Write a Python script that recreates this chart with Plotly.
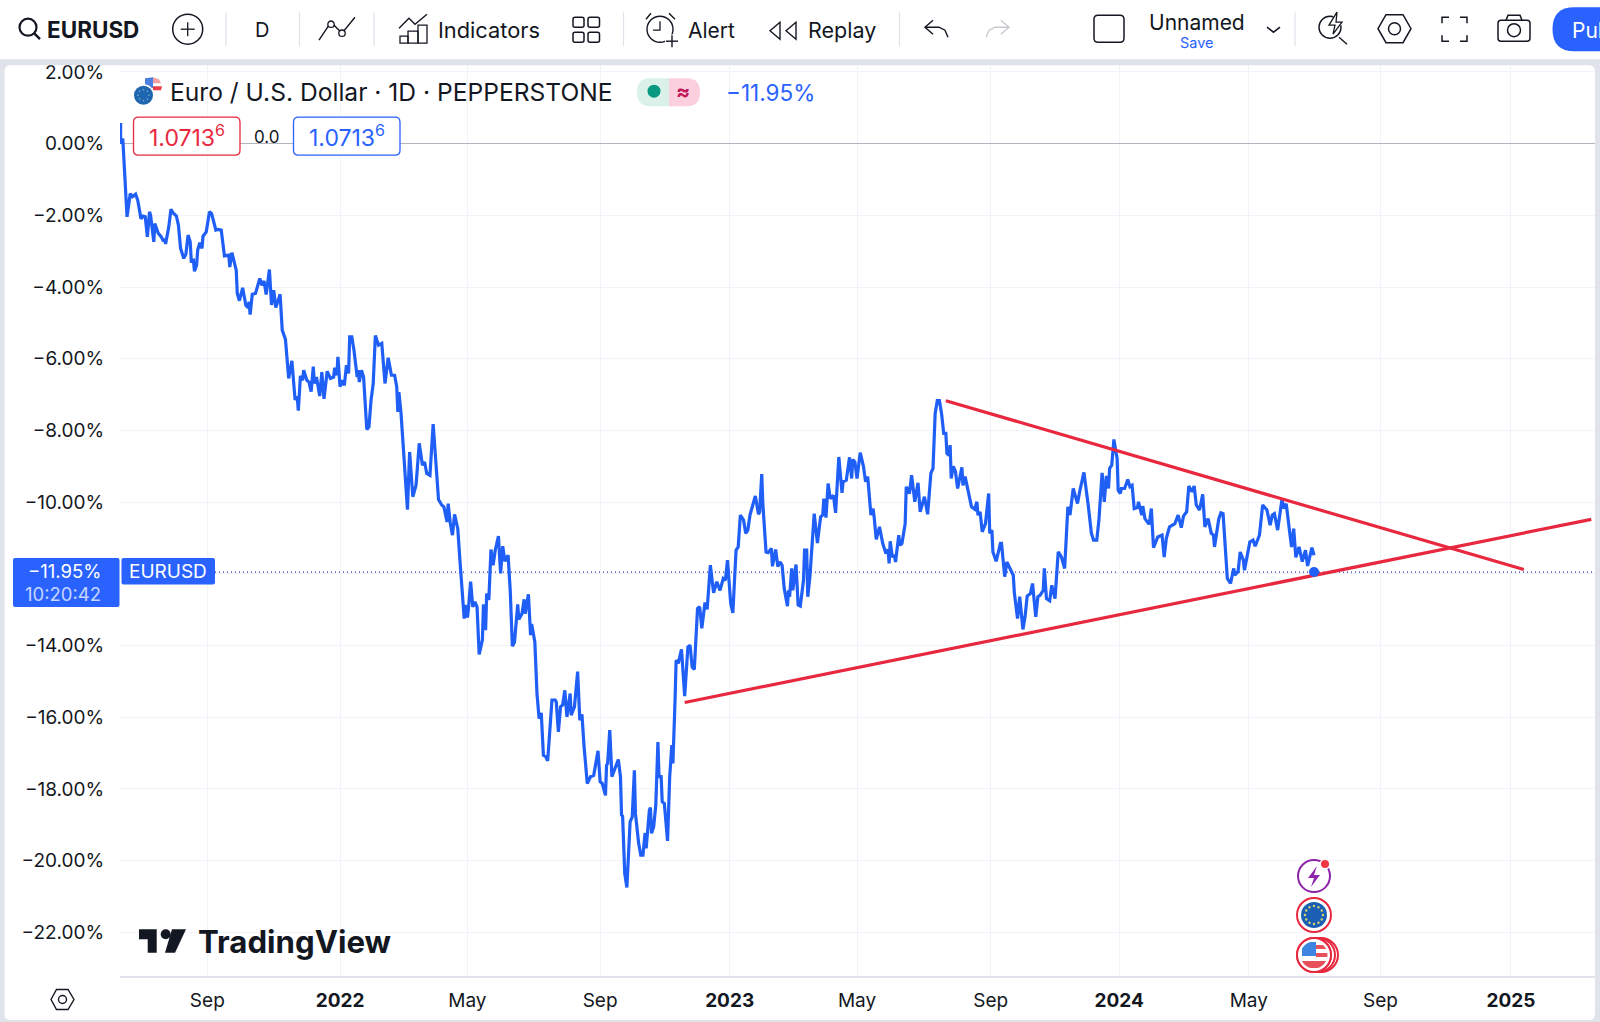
import numpy as np
import pandas as pd
import plotly.graph_objects as go

W, H = 1600, 1022
# the page came out about 5px low at the top, so paper y is stretched to suit
PAGE_TOP, PAGE_H = 4.8, 1017.2

# EURUSD percent change, bars counted in calendar days from the first date
start_date = "2021-06-11"
days = [
    1, 1, 3, 5, 7, 10, 12, 15, 17, 20,
    22, 24, 26, 28, 29, 32, 33, 36, 39, 41,
    42, 43, 46, 48, 50, 53, 55, 57, 60, 62,
    64, 66, 67, 69, 70, 72, 73, 75, 77, 78,
    81, 84, 86, 90, 92, 95, 98, 102, 103, 105,
    107, 109, 110, 112, 115, 118, 120, 121, 122, 124,
    127, 131, 133, 135, 137, 140, 142, 144, 146, 150,
    152, 155, 158, 161, 164, 166, 167, 169, 171, 172,
    175, 177, 179, 181, 182, 184, 187, 189, 191, 194,
    197, 200, 201, 203, 204, 206, 208, 210, 212, 214,
    215, 217, 219, 222, 223, 224, 226, 228, 231, 233,
    235, 237, 239, 242, 245, 248, 251, 254, 257, 259,
    260, 261, 263, 264, 265, 268, 269, 271, 274, 277,
    280, 283, 285, 287, 290, 293, 295, 298, 301, 303,
    306, 307, 309, 311, 313, 316, 318, 322, 323, 325,
    326, 328, 330, 332, 334, 336, 339, 340, 342, 343,
    345, 347, 349, 351, 354, 356, 358, 360, 363, 365,
    367, 369, 372, 373, 376, 378, 379, 382, 384, 385,
    388, 390, 392, 394, 396, 398, 400, 402, 404, 407,
    408, 410, 412, 414, 416, 418, 421, 422, 425, 428,
    430, 432, 434, 437, 440, 443, 447, 449, 451, 454,
    455, 456, 458, 460, 463, 466, 468, 469, 470, 472,
    474, 476, 477, 479, 481, 482, 485, 487, 489, 491,
    492, 495, 496, 497, 499, 501, 503, 504, 506, 507,
    509, 512, 514, 516, 517, 519, 520, 522, 525, 528,
    531, 533, 535, 537, 540, 542, 544, 547, 549, 552,
    555, 558, 561, 564, 566, 568, 571, 573, 576, 578,
    580, 583, 585, 587, 589, 594, 597, 598, 600, 601,
    604, 606, 609, 610, 613, 615, 617, 619, 621, 624,
    625, 626, 628, 629, 632, 634, 636, 639, 640, 642,
    643, 645, 649, 652, 655, 657, 658, 660, 662, 664,
    667, 669, 672, 675, 676, 679, 682, 684, 685, 687,
    689, 692, 695, 697, 699, 702, 704, 705, 707, 710,
    713, 716, 718, 719, 720, 722, 724, 725, 728, 729,
    731, 734, 735, 738, 740, 743, 746, 748, 752, 755,
    758, 760, 762, 764, 766, 768, 770, 772, 773, 775,
    776, 777, 779, 781, 783, 787, 788, 790, 793, 796,
    799, 801, 802, 804, 806, 809, 812, 813, 815, 816,
    819, 823, 824, 827, 829, 832, 835, 836, 839, 841,
    844, 846, 848, 851, 853, 856, 858, 860, 863, 864,
    866, 869, 871, 874, 877, 880, 883, 886, 888, 891,
    895, 897, 901, 905, 908, 910, 913, 915, 918, 920,
    922, 924, 925, 927, 929, 932, 933, 935, 936, 939,
    942, 944, 946, 948, 951, 952, 955, 956, 958, 962,
    964, 966, 970, 974, 976, 978, 981, 986, 989, 992,
    994, 997, 999, 1002, 1004, 1006, 1009, 1012, 1014, 1017,
    1020, 1022, 1023, 1027, 1029, 1031, 1033, 1034, 1035, 1038,
    1041, 1042, 1045, 1047, 1050, 1051, 1054, 1056, 1059, 1061,
    1065, 1068, 1072, 1075, 1077, 1079, 1082, 1086, 1088, 1090,
    1093, 1095, 1097, 1099, 1102, 1105, 1108, 1110, 1114, 1116,
]
pct_change = [
    0.58, 0.00, 0.14, -1.02, -2.04, -1.39, -1.48, -1.41, -1.58, -2.09,
    -2.02, -2.04, -2.60, -1.90, -2.00, -2.74, -2.23, -2.49, -2.60, -2.72,
    -2.65, -2.80, -2.32, -1.83, -1.93, -2.01, -2.27, -2.92, -3.20, -3.08,
    -2.55, -2.74, -3.27, -3.25, -3.56, -3.39, -2.97, -2.76, -2.92, -2.58,
    -2.46, -1.90, -1.95, -2.41, -2.39, -2.41, -3.13, -3.11, -3.44, -3.04,
    -3.34, -3.53, -4.18, -4.38, -4.02, -4.51, -4.57, -4.41, -4.77, -4.20,
    -4.18, -3.76, -3.95, -3.83, -4.21, -3.51, -4.50, -4.09, -4.57, -4.20,
    -5.20, -5.46, -6.55, -6.06, -7.15, -7.06, -7.45, -6.48, -6.60, -6.32,
    -6.60, -6.65, -6.92, -6.22, -6.69, -6.51, -7.04, -6.37, -7.12, -6.35,
    -6.55, -6.51, -6.25, -6.46, -5.95, -6.78, -6.60, -6.74, -6.18, -6.41,
    -5.39, -5.39, -5.76, -6.51, -6.32, -6.65, -6.32, -6.51, -7.97, -7.90,
    -7.15, -6.69, -5.35, -5.62, -5.57, -6.69, -5.97, -6.46, -6.46, -6.79,
    -7.48, -6.93, -7.53, -8.04, -8.22, -9.85, -10.21, -8.60, -9.85, -9.53,
    -8.36, -8.97, -8.88, -9.20, -9.25, -7.82, -8.74, -9.93, -10.08, -10.13,
    -10.55, -10.04, -10.58, -10.92, -10.34, -10.74, -11.62, -13.25, -12.87, -13.22,
    -12.97, -12.22, -12.92, -12.78, -12.92, -14.25, -13.85, -12.85, -13.57, -12.55,
    -12.73, -11.32, -11.76, -11.34, -10.95, -11.99, -11.23, -11.65, -11.48, -12.46,
    -14.02, -13.90, -12.85, -13.27, -13.11, -12.71, -13.11, -12.57, -13.71, -13.40,
    -13.90, -15.34, -16.04, -15.88, -17.06, -17.09, -17.22, -16.46, -15.52, -15.52,
    -15.57, -16.41, -15.71, -15.66, -15.25, -15.99, -15.34, -15.94, -15.71, -14.73,
    -16.08, -15.92, -16.83, -17.85, -17.66, -17.62, -16.94, -17.80, -17.85, -18.18,
    -17.34, -17.29, -16.36, -17.66, -17.43, -17.18, -17.66, -18.73, -18.76, -20.36,
    -20.75, -19.52, -18.92, -18.78, -17.48, -18.69, -19.52, -19.85, -19.85, -19.23,
    -19.66, -18.59, -18.52, -19.24, -19.06, -18.45, -16.69, -17.66, -17.66, -18.36,
    -18.41, -19.45, -17.66, -16.78, -17.29, -15.52, -14.41, -14.50, -14.11, -15.41,
    -14.04, -13.99, -14.60, -14.67, -12.97, -12.92, -13.52, -12.80, -12.99, -11.76,
    -12.53, -12.22, -12.46, -12.13, -12.18, -11.62, -12.83, -13.09, -11.34, -11.25,
    -10.36, -10.50, -10.87, -10.78, -10.36, -9.83, -10.34, -10.27, -9.22, -10.04,
    -11.39, -11.41, -11.29, -11.79, -11.32, -11.80, -11.67, -11.76, -12.41, -12.90,
    -12.46, -12.64, -11.85, -12.46, -11.74, -12.87, -12.90, -12.18, -11.34, -11.34,
    -12.64, -12.08, -10.32, -11.14, -10.41, -10.36, -9.90, -10.43, -9.48, -9.90,
    -9.81, -10.30, -8.74, -9.74, -9.43, -9.39, -8.75, -9.34, -8.81, -8.88,
    -9.34, -8.62, -9.00, -9.43, -9.29, -10.36, -10.18, -10.41, -11.04, -10.69,
    -11.15, -11.43, -11.32, -11.71, -11.09, -11.53, -11.48, -11.67, -10.92, -11.20,
    -11.15, -10.60, -9.57, -9.76, -9.25, -9.99, -9.46, -10.27, -9.85, -10.34,
    -9.20, -9.06, -7.53, -7.17, -7.17, -7.53, -8.08, -8.08, -8.64, -8.69,
    -8.41, -9.34, -9.00, -9.15, -9.62, -9.03, -9.53, -9.29, -9.76, -10.13,
    -10.20, -9.99, -10.36, -10.27, -10.83, -10.60, -9.76, -10.87, -10.78, -11.39,
    -11.65, -11.15, -11.15, -12.08, -11.67, -11.85, -12.04, -12.53, -13.25, -12.64,
    -13.55, -13.20, -12.62, -12.55, -12.27, -13.20, -12.64, -12.60, -12.46, -11.85,
    -12.69, -12.75, -12.32, -12.69, -11.39, -11.53, -11.85, -10.13, -10.36, -9.62,
    -10.04, -9.71, -9.17, -10.08, -10.87, -11.06, -11.06, -10.50, -9.18, -9.99,
    -9.27, -9.62, -9.06, -8.97, -8.25, -8.78, -9.67, -9.76, -9.62, -9.62,
    -9.37, -9.57, -9.53, -10.18, -10.15, -9.99, -10.36, -10.11, -10.46, -10.62,
    -10.18, -11.27, -10.97, -10.92, -11.53, -11.01, -10.69, -10.60, -10.36, -10.71,
    -10.39, -10.27, -9.55, -9.71, -9.55, -10.08, -10.22, -9.78, -10.69, -10.46,
    -10.87, -10.92, -11.25, -10.47, -10.30, -10.32, -11.29, -11.62, -12.13, -12.27,
    -11.85, -12.04, -11.94, -11.39, -11.62, -11.90, -11.39, -11.11, -11.06, -11.23,
    -10.92, -10.08, -10.22, -10.64, -10.36, -10.32, -10.78, -9.93, -10.18, -10.04,
    -10.78, -11.25, -10.74, -11.54, -11.25, -11.66, -11.34, -11.78, -11.27, -11.48,
]
assert len(days) == len(pct_change)

last_day = 1116
last_pct = -11.95

# the two hand drawn trend lines: (day, pct) at each end
upper_days = [772, 1312]
upper_pct = [-7.17, -11.88]
lower_days = [528, 1375]
lower_pct = [-15.59, -10.48]

y_ticks = [2, 0, -2, -4, -6, -8, -10, -12, -14, -16, -18, -20, -22]
y_labels = ["2.00%", "0.00%", "−2.00%", "−4.00%", "−6.00%", "−8.00%", "−10.00%", "−12.00%", "−14.00%",
            "−16.00%", "−18.00%", "−20.00%", "−22.00%"]
x_ticks = ["2021-09-01", "2022-01-03", "2022-05-02", "2022-09-03", "2023-01-02", "2023-05-01",
           "2023-09-03", "2024-01-01", "2024-05-01", "2024-09-01", "2025-01-01"]
x_labels = ["Sep", "<b>2022</b>", "May", "Sep", "<b>2023</b>", "May", "Sep", "<b>2024</b>", "May", "Sep", "<b>2025</b>"]

FONT = "Inter, 'Noto Sans', sans-serif"
INK = "#131722"
BLUE = "#1f5ff5"
RED = "#e8283f"
BAND = "#e0e3eb"
GRID = "#f0f3fa"


def to_dates(d):
    return pd.Timestamp(start_date) + pd.to_timedelta(d, unit="D")


fig = go.Figure()
fig.add_trace(go.Scatter(x=to_dates(days), y=pct_change, mode="lines", line=dict(color=BLUE, width=3.2),
                         hoverinfo="skip"))
fig.add_trace(go.Scatter(x=to_dates(upper_days), y=upper_pct, mode="lines", line=dict(color=RED, width=3.2),
                         hoverinfo="skip"))
fig.add_trace(go.Scatter(x=to_dates(lower_days), y=lower_pct, mode="lines", line=dict(color=RED, width=3.2),
                         hoverinfo="skip"))
fig.add_trace(go.Scatter(x=to_dates([last_day]), y=[last_pct], mode="markers", marker=dict(color=BLUE, size=10),
                         hoverinfo="skip"))

shapes = []
annos = []


def sx(x):
    return x / W


def sy(y):
    return 1 - (y - PAGE_TOP) / PAGE_H


def pt(x, y):
    return f"{sx(x):.5f},{sy(y):.5f}"


def poly(pts, close=False, line=INK, w=1.5, fill=None):
    d = "M" + " L".join(pt(x, y) for x, y in pts) + (" Z" if close else "")
    shapes.append(dict(type="path", xref="paper", yref="paper", path=d,
                       line=dict(color=line if line else "rgba(0,0,0,0)", width=w if line else 0),
                       fillcolor=fill if fill else "rgba(0,0,0,0)"))


def rr_path(x0, y0, x1, y1, r):
    return (f"M{pt(x0 + r, y0)} L{pt(x1 - r, y0)} Q{pt(x1, y0)} {pt(x1, y0 + r)} L{pt(x1, y1 - r)} "
            f"Q{pt(x1, y1)} {pt(x1 - r, y1)} L{pt(x0 + r, y1)} Q{pt(x0, y1)} {pt(x0, y1 - r)} "
            f"L{pt(x0, y0 + r)} Q{pt(x0, y0)} {pt(x0 + r, y0)} Z")


def rrect(x0, y0, x1, y1, r, line=INK, w=1.5, fill=None):
    shapes.append(dict(type="path", xref="paper", yref="paper", path=rr_path(x0, y0, x1, y1, r),
                       line=dict(color=line if line else "rgba(0,0,0,0)", width=w if line else 0),
                       fillcolor=fill if fill else "rgba(0,0,0,0)"))


def circ(cx, cy, r, line=INK, w=1.5, fill=None):
    shapes.append(dict(type="circle", xref="paper", yref="paper", x0=sx(cx - r), x1=sx(cx + r),
                       y0=sy(cy + r), y1=sy(cy - r),
                       line=dict(color=line if line else "rgba(0,0,0,0)", width=w if line else 0),
                       fillcolor=fill if fill else "rgba(0,0,0,0)"))


def txt(x, y, s, size, color=INK, anchor="left"):
    annos.append(dict(xref="paper", yref="paper", x=sx(x), y=sy(y), text=s, showarrow=False, xanchor=anchor,
                      yanchor="middle", font=dict(family=FONT, size=size, color=color), borderpad=0))


# grey frame round the chart card
shapes.append(dict(type="path", xref="paper", yref="paper", fillrule="evenodd", fillcolor=BAND,
                   line=dict(width=0),
                   path=f"M{pt(0, 59)} L{pt(W, 59)} L{pt(W, H + 6)} L{pt(0, H + 6)} Z " + rr_path(4.5, 65, 1595, 1020, 6)))

# last price line
shapes.append(dict(type="line", xref="paper", yref="y", x0=sx(215), x1=sx(1595), y0=last_pct, y1=last_pct,
                   layer="below", line=dict(color="#2a34b0", width=1.2, dash="1px,3px")))

# toolbar
for sep in [226, 299.5, 374, 623.5, 899.5, 1295]:
    poly([(sep, 12), (sep, 46)], line=BAND, w=1.2)
circ(28, 27, 8.5, w=2.2)
poly([(34, 33), (40, 39)], w=2.4)
txt(46, 29, "<b>EURUSD</b>", 22.5)
circ(187.7, 29, 15)
poly([(180.7, 29), (194.7, 29)], w=1.3)
poly([(187.7, 22), (187.7, 36)], w=1.3)
txt(262, 30, "D", 20, anchor="center")
poly([(319, 40), (331, 22), (342, 33), (355, 17)], w=1.4)
circ(331, 24, 3.2, w=1.3, fill="white")
circ(342, 33, 3.2, w=1.3, fill="white")
poly([(399, 28), (409, 18), (415, 24), (427, 14)], w=1.4)
rrect(400, 36, 408, 43, 0, w=1.3)
rrect(408, 31, 418, 43, 0, w=1.3)
rrect(418, 25, 427, 43, 0, w=1.3)
txt(437, 30, "Indicators", 21.8)
rrect(573, 17, 584, 27, 2)
rrect(588, 17, 599.5, 27, 2)
rrect(573, 32, 584, 42, 2)
rrect(588, 32, 599.5, 42, 2)
circ(660, 29, 13, w=1.4)
poly([(660, 21), (660, 30), (653, 30)], w=1.3)
poly([(646, 19), (651, 13)], w=1.4)
poly([(669, 13), (675, 19)], w=1.4)
circ(672, 41, 7, line=None, fill="white")
poly([(666, 41), (678, 41)], w=1.4)
poly([(672, 35), (672, 47)], w=1.4)
txt(687, 30, "Alert", 21)
poly([(780, 22), (770, 30.5), (780, 39)], close=True, w=1.4)
poly([(796, 22), (786, 30.5), (796, 39)], close=True, w=1.4)
txt(807, 30, "Replay", 21.5)
poly([(933, 20), (925, 27), (933, 34)], w=1.4)
poly([(925, 27), (939, 27), (945, 30), (948, 37)], w=1.4)
poly([(1001, 20), (1009, 27), (1001, 34)], line="#c8cad0", w=1.4)
poly([(1009, 27), (995, 27), (989, 30), (986, 37)], line="#c8cad0", w=1.4)
rrect(1094, 15, 1124, 42, 4)
txt(1197, 22, "Unnamed", 21, anchor="center")
txt(1197, 42, "Save", 14.5, color="#2962ff", anchor="center")
poly([(1267, 27), (1273.5, 32), (1280, 27)], w=1.5)
circ(1330, 27, 11, w=1.4)
circ(1338, 20, 6, line=None, fill="white")
poly([(1337, 12), (1329, 25), (1335, 25), (1333, 34), (1342, 22), (1336, 22)], close=True, w=1.3, fill="white")
poly([(1339, 37), (1347, 44)], w=1.4)
poly([(1378, 28.5), (1386, 14.5), (1403, 14.5), (1411, 28.5), (1403, 42.5), (1386, 42.5)], close=True)
circ(1394.5, 28.5, 6)
poly([(1442, 23), (1442, 17), (1449, 17)])
poly([(1460, 17), (1467, 17), (1467, 23)])
poly([(1442, 35), (1442, 41), (1449, 41)])
poly([(1460, 41), (1467, 41), (1467, 35)])
rrect(1498, 20, 1530, 41, 3)
poly([(1506, 20), (1508, 15), (1520, 15), (1522, 20)])
circ(1514, 30, 6.5)
rrect(1552.5, 7, 1640, 51, 22, line=None, fill="#2962ff")
txt(1571, 30, "Publish", 21, color="white")

# legend row
circ(153.5, 85.5, 9, line=None, fill="white")
poly([(145, 78), (153, 77), (153, 88), (145, 88)], close=True, line=None, fill="#4a7fe0")
poly([(153, 77), (159, 79), (161, 83), (153, 83)], close=True, line=None, fill="#f0a0a5")
poly([(153, 86), (162, 86), (161, 90), (153, 90)], close=True, line=None, fill="#e8404a")
circ(143.5, 95, 11, line=None, fill="white")
circ(143.5, 95, 9.5, line=None, fill="#1f66b0")
for a in np.arange(0, 360, 45):
    circ(143.5 + 5.5 * np.cos(np.radians(a)), 95 + 5.5 * np.sin(np.radians(a)), 0.8, line=None, fill="#7fb0d8")
txt(169, 92, "Euro / U.S. Dollar · 1D · PEPPERSTONE", 24.6)
shapes.append(dict(type="path", xref="paper", yref="paper", fillcolor="#d9f1e9", line=dict(width=0),
                   path=f"M{pt(669, 78)} L{pt(650, 78)} Q{pt(637, 78)} {pt(637, 92)} Q{pt(637, 106)} {pt(650, 106)} L{pt(669, 106)} Z"))
shapes.append(dict(type="path", xref="paper", yref="paper", fillcolor="#fccfdf", line=dict(width=0),
                   path=f"M{pt(669, 78)} L{pt(687, 78)} Q{pt(700, 78)} {pt(700, 92)} Q{pt(700, 106)} {pt(687, 106)} L{pt(669, 106)} Z"))
circ(654, 91, 6.5, line=None, fill="#089981")
txt(683, 91, "<b>≈</b>", 21, color="#c2185b", anchor="center")
txt(725, 92, "−11.95%", 22.5, color="#2962ff")

rrect(133.5, 117, 240, 155, 5, line=RED, w=1.3, fill="white")
txt(186.5, 136, "1.0713<sup>6</sup>", 23, color=RED, anchor="center")
txt(266, 136.5, "0.0", 17, anchor="center")
rrect(293.5, 117, 400, 155, 5, line="#2962ff", w=1.3, fill="white")
txt(346.5, 136, "1.0713<sup>6</sup>", 23, color="#2962ff", anchor="center")

# price and symbol labels on the axis
rrect(13, 558, 119.5, 607, 2, line=None, fill="#2962ff")
txt(64, 571, "−11.95%", 18.5, color="white", anchor="center")
txt(63, 594, "10:20:42", 18.5, color="#c5d5ff", anchor="center")
rrect(121.5, 558, 215, 584.5, 2, line=None, fill="#2962ff")
txt(167.5, 571.5, "EURUSD", 19, color="white", anchor="center")

# watermark
poly([(139, 929.3), (156.7, 929.3), (156.7, 952.7), (147.7, 952.7), (147.7, 939.3), (139, 939.3)],
     close=True, line=None, fill=INK)
circ(165.7, 934.3, 5, line=None, fill=INK)
poly([(172, 929.3), (186, 929.3), (175, 952.7), (165, 952.7)], close=True, line=None, fill=INK)
txt(197, 942, "<b>TradingView</b>", 31.2)

# bottom left settings hexagon
poly([(51, 999.5), (56.5, 989.5), (68, 989.5), (74, 999.5), (68, 1009.5), (56.5, 1009.5)], close=True, w=1.4)
circ(62.5, 999.5, 4, w=1.4)

# event icons above the time axis
circ(1314, 876, 16, line="#8e24aa", w=2)
poly([(1317, 866), (1308, 878), (1314, 878), (1311, 887), (1320, 875), (1314, 875)], close=True, line=None,
     fill="#8e24aa")
circ(1325, 864, 5.5, line=None, fill="white")
circ(1325, 864, 4, line=None, fill="#f23645")
circ(1314, 915, 17, line=RED, w=2, fill="white")
circ(1314, 915, 13, line=None, fill="#1a5fb4")
for a in np.arange(0, 360, 30):
    circ(1314 + 9 * np.cos(np.radians(a)), 915 + 9 * np.sin(np.radians(a)), 1.2, line=None, fill="#d8d36a")
circ(1321, 955, 17, line=RED, w=2, fill="white")
circ(1318, 955, 17, line=RED, w=2, fill="white")
circ(1314, 955, 17, line=RED, w=2, fill="white")
poly([(1316, 945), (1328, 945), (1328, 949), (1316, 949)], close=True, line=None, fill="#e8505a")
poly([(1316, 953), (1328, 953), (1328, 957), (1316, 957)], close=True, line=None, fill="#e8505a")
poly([(1301, 961), (1327, 961), (1325, 968), (1303, 968)], close=True, line=None, fill="#e8505a")
poly([(1302, 942), (1316, 942), (1316, 956), (1302, 956)], close=True, line=None, fill="#3d85e0")
circ(1314, 955, 15, line="white", w=3)
circ(1314, 955, 17, line=RED, w=2)

fig.update_layout(
    width=W, height=H, autosize=False, showlegend=False,
    margin=dict(l=0, r=0, t=0, b=0),
    paper_bgcolor="white", plot_bgcolor="white",
    font=dict(family=FONT, color=INK),
    shapes=shapes, annotations=annos,
    xaxis=dict(domain=[120 / W, 1595 / W], type="date", range=["2021-06-11 10:00", "2025-03-20 12:00"],
               tickvals=x_ticks, ticktext=x_labels, tickfont=dict(size=19, color=INK), showgrid=True,
               gridcolor=GRID, gridwidth=1, showline=True, linecolor=BAND, linewidth=1.5, ticks="outside",
               ticklen=6, tickcolor="rgba(0,0,0,0)", zeroline=False),
    yaxis=dict(domain=[sy(976), sy(65)], range=[-23.22, 2.19], tickvals=y_ticks, ticktext=y_labels,
               tickfont=dict(size=19, color=INK), showgrid=True, gridcolor=GRID, gridwidth=1, showline=False,
               ticks="outside", ticklen=11, tickcolor="rgba(0,0,0,0)", zeroline=True, zerolinecolor="#b2b5be",
               zerolinewidth=1),
)

fig.write_html("out.html", config={"displayModeBar": False},
               post_script="document.body.style.margin='0';document.body.style.overflow='hidden';")
